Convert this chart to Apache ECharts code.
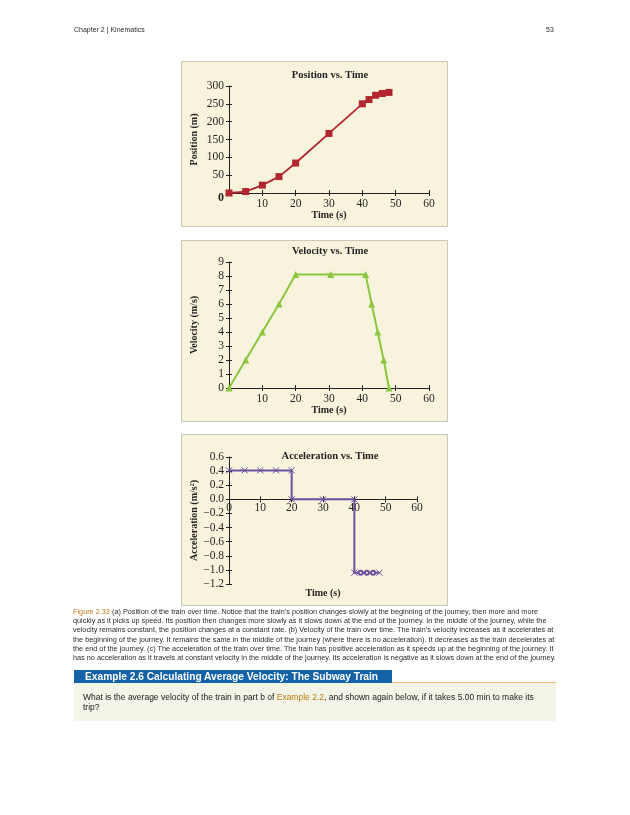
<!DOCTYPE html>
<html><head><meta charset="utf-8">
<script src="https://cdn.jsdelivr.net/npm/echarts@6/dist/echarts.min.js"></script>
<style>
body{margin:0;background:#fff;}
#c{position:absolute;left:0;top:0;width:630px;height:815px;}
.t{position:absolute;font-family:'Liberation Sans',Arial,sans-serif;color:#2b2b2b;white-space:nowrap;}
.cap{left:73px;top:607px;font-size:7.3px;line-height:9.2px;}
.cap b{color:#c07c12;font-weight:normal;}
.exh{left:74px;top:670px;width:318px;height:13px;background:#1463a8;color:#fff;font-weight:bold;font-size:10.2px;line-height:13px;padding-left:11px;box-sizing:border-box;}
.exl{left:392px;top:682px;width:164px;height:1px;background:#f0b86a;}
.exb{left:74px;top:683px;width:482px;height:38px;background:#f2f5e7;}
.ext{left:83px;top:692px;font-size:8.5px;line-height:10px;color:#222;}
.ext span{color:#c07c12;}
</style></head><body>
<div id="c"></div>
<div class="t" style="left:74px;top:26px;font-size:7px;">Chapter 2 | Kinematics</div>
<div class="t" style="left:546px;top:26px;font-size:7px;">53</div>
<div class="t cap"><b>Figure 2.33</b> (a) Position of the train over time. Notice that the train’s position changes slowly at the beginning of the journey, then more and more<br>quickly as it picks up speed. Its position then changes more slowly as it slows down at the end of the journey. In the middle of the journey, while the<br>velocity remains constant, the position changes at a constant rate. (b) Velocity of the train over time. The train’s velocity increases as it accelerates at<br>the beginning of the journey. It remains the same in the middle of the journey (where there is no acceleration). It decreases as the train decelerates at<br>the end of the journey. (c) The acceleration of the train over time. The train has positive acceleration as it speeds up at the beginning of the journey. It<br>has no acceleration as it travels at constant velocity in the middle of the journey. Its acceleration is negative as it slows down at the end of the journey.</div>
<div class="t exb"></div>
<div class="t exl"></div>
<div class="t exh">Example 2.6 Calculating Average Velocity: The Subway Train</div>
<div class="t ext">What is the average velocity of the train in part b of <span>Example 2.2</span>, and shown again below, if it takes 5.00 min to make its<br>trip?</div>
<script>
// ---- data ----
const posTime  = [0, 5, 10, 15, 20, 30, 40, 42, 44, 46, 48];
const posValue = [0, 4, 22, 46, 84, 167, 250, 262, 274, 279, 282];
const velTime  = [0, 5, 10, 15, 20, 30.5, 41, 42.8, 44.6, 46.4, 48];
const velValue = [0, 2, 4, 6, 8.1, 8.1, 8.1, 6, 4, 2, 0];
const accTime  = [0, 5, 10, 15, 20, 20, 30, 40, 40, 42, 44, 46, 48];
const accValue = [0.41, 0.41, 0.41, 0.41, 0.41, 0, 0, 0, -1.04, -1.04, -1.04, -1.04, -1.04];
const accMarker = ['x','x','x','x','x','x','x','x','x','o','o','o','x'];
const titles = ['Position vs. Time', 'Velocity vs. Time', 'Acceleration vs. Time'];
const xNames = ['Time (s)', 'Time (s)', 'Time (s)'];
const yNames = ['Position (m)', 'Velocity (m/s)', 'Acceleration (m/s²)'];

const SERIF = "'Liberation Serif','Times New Roman',serif";
const INK = '#231f20';
const X_PATH = 'path://M0,0L10,10M10,0L0,10';

function pair(isX, gi, base, nameOpts, labelOpts) {
  const main = Object.assign({
    type: 'value', gridIndex: gi,
    axisLine: {show: true, onZero: false, lineStyle: {color: INK, width: 1}},
    axisTick: {show: true, inside: false, length: 3, lineStyle: {color: INK}},
    splitLine: {show: false},
    axisLabel: Object.assign({color: INK, fontFamily: SERIF, fontSize: 11.5, margin: 5}, labelOpts || {}),
    nameTextStyle: {color: INK, fontFamily: SERIF, fontSize: 10, fontWeight: 'bold'},
    nameLocation: 'middle'
  }, base, nameOpts);
  main.position = isX ? 'bottom' : 'left';
  const dup = Object.assign({
    type: 'value', gridIndex: gi,
    axisLine: {show: false, onZero: false},
    axisTick: {show: true, inside: true, length: 3, lineStyle: {color: INK}},
    axisLabel: {show: false},
    splitLine: {show: false}
  }, base);
  dup.position = main.position;
  return [main, dup];
}

const noZero = v => v === 0 ? '' : String(v);
const fmtAcc = v => { const s = (Math.round(v * 10) / 10).toFixed(1); return s.replace('-', '−'); };

// acceleration grid: zero line sits 1.2/1.8 of the plot height above the bottom
const ACC_H = 127;
const ACC_ZERO_OFF = -ACC_H * 1.2 / 1.8;

const xAxis = [].concat(
  pair(true, 0, {min: 0, max: 60, interval: 10}, {name: xNames[0], nameGap: 16}, {formatter: noZero}),
  pair(true, 1, {min: 0, max: 60, interval: 10}, {name: xNames[1], nameGap: 17}, {formatter: noZero}),
  pair(true, 2, {min: 0, max: 60, interval: 10, offset: ACC_ZERO_OFF}, {name: xNames[2], nameGap: 89}, {margin: 3})
);
const yAxis = [].concat(
  pair(false, 0, {min: 0, max: 300, interval: 50}, {name: yNames[0], nameGap: 30},
    {formatter: v => v === 0 ? '{z|0}' : String(v),
     rich: {z: {fontWeight: 'bold', fontSize: 12, fontFamily: SERIF, color: INK, padding: [10, 0, 0, 0]}}}),
  pair(false, 1, {min: 0, max: 9, interval: 1}, {name: yNames[1], nameGap: 30}, {}),
  pair(false, 2, {min: -1.2, max: 0.6, interval: 0.2}, {name: yNames[2], nameGap: 30}, {formatter: fmtAcc})
);

const zip = (a, b) => a.map((t, i) => [t, b[i]]);

const panels = [[181, 61, 266, 165], [181, 240, 266, 181], [181, 434, 266, 171]];
const titlePos = [[330, 75], [330, 251], [330, 456]];
const graphic = [];
panels.forEach(p => graphic.push({type: 'rect', z: -10, silent: true,
  shape: {x: p[0] + 0.5, y: p[1] + 0.5, width: p[2], height: p[3]},
  style: {fill: '#f7f3dd', stroke: '#c9c7bb', lineWidth: 1}}));
titles.forEach((t, i) => graphic.push({type: 'text', z: 10, x: titlePos[i][0], y: titlePos[i][1],
  style: {text: t, fill: INK, font: 'bold 10.5px ' + SERIF, textAlign: 'center', textVerticalAlign: 'middle'}}));

const option = {
  animation: false,
  backgroundColor: 'transparent',
  grid: [
    {left: 229, top: 86, width: 200, height: 107},
    {left: 229, top: 262, width: 200, height: 126},
    {left: 229, top: 457, width: 188, height: ACC_H}
  ],
  xAxis, yAxis, graphic,
  series: [
    {type: 'line', xAxisIndex: 0, yAxisIndex: 0, data: zip(posTime, posValue),
     symbol: 'rect', symbolSize: 7, lineStyle: {color: '#b3262e', width: 1.8},
     itemStyle: {color: '#b3262e'}},
    {type: 'line', xAxisIndex: 2, yAxisIndex: 2, data: zip(velTime, velValue),
     symbol: 'triangle', symbolSize: 7, lineStyle: {color: '#8dc63f', width: 2},
     itemStyle: {color: '#8dc63f'}},
    {type: 'line', xAxisIndex: 4, yAxisIndex: 4,
     data: zip(accTime, accValue).map((d, i) => ({value: d,
       symbol: accMarker[i] === 'x' ? X_PATH : 'emptyCircle',
       symbolSize: accMarker[i] === 'x' ? 6 : 4})),
     lineStyle: {color: '#6c4f9f', width: 2},
     itemStyle: {color: '#6c4f9f', borderColor: '#6c4f9f', borderWidth: 1}}
  ]
};
const chart = echarts.init(document.getElementById('c'), null, {renderer: 'canvas'});
chart.setOption(option);
</script>
</body></html>
